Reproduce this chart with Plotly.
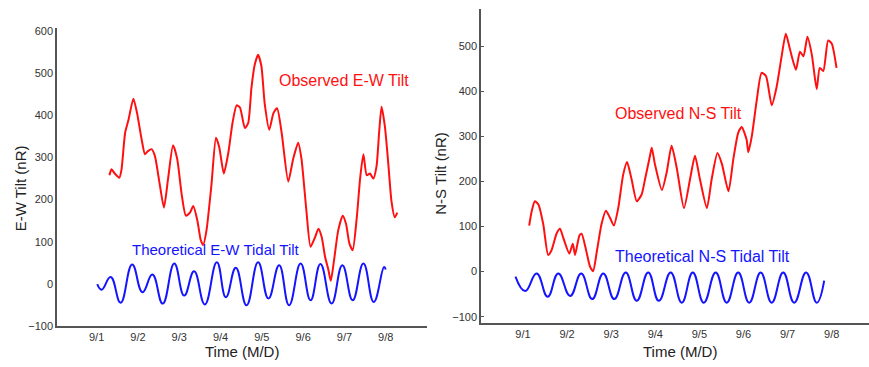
import plotly.graph_objects as go

# ---------------- data (days of September; tick "9/N" at day N) ----------------
ew_obs_day = [1.31, 1.36, 1.44, 1.55, 1.60, 1.69, 1.77, 1.89, 1.98, 2.09, 2.17, 2.25, 2.33, 2.41,
              2.53, 2.63, 2.73, 2.85, 2.95, 3.06, 3.16, 3.26, 3.34, 3.44, 3.52, 3.58, 3.66, 3.78,
              3.89, 3.97, 4.08, 4.19, 4.29, 4.39, 4.47, 4.59, 4.67, 4.75, 4.83, 4.91, 4.99, 5.07,
              5.18, 5.28, 5.37, 5.48, 5.64, 5.76, 5.88, 5.96, 6.08, 6.18, 6.29, 6.37, 6.45, 6.53,
              6.61, 6.67, 6.75, 6.85, 6.96, 7.04, 7.12, 7.20, 7.30, 7.38, 7.46, 7.54, 7.62, 7.70,
              7.78, 7.84, 7.90, 7.98, 8.06, 8.14, 8.22, 8.28]
ew_obs_val = [258, 272, 262, 252, 270, 359, 389, 440, 405, 343, 308, 316, 320, 304,
              235, 181, 250, 329, 297, 212, 162, 169, 185, 150, 104, 92, 127, 235,
              347, 324, 262, 312, 382, 424, 419, 370, 382, 467, 521, 544, 517, 428,
              366, 405, 417, 359, 243, 297, 335, 297, 173, 88, 111, 131, 111, 65,
              34, 7, 57, 127, 162, 142, 96, 80, 158, 250, 308, 258, 262, 250,
              281, 359, 421, 374, 289, 196, 158, 169]

ew_th_day = [1.015, 1.12, 1.34, 1.58, 1.86, 2.11, 2.35, 2.60, 2.88, 3.12, 3.36, 3.62, 3.91, 4.13,
             4.37, 4.63, 4.91, 5.16, 5.42, 5.66, 5.94, 6.18, 6.42, 6.69, 6.95, 7.20, 7.46, 7.71,
             7.96, 8.00]
ew_th_val = [-1, -14, 16, -45, 46, -20, 22, -47, 48, -28, 30, -49, 51, -32,
             38, -51, 51, -35, 44, -51, 48, -39, 47, -47, 44, -39, 48, -43,
             40, 34]

ns_obs_day = [1.14, 1.20, 1.27, 1.35, 1.46, 1.57, 1.65, 1.76, 1.84, 1.91, 2.05, 2.13, 2.18, 2.28,
              2.33, 2.43, 2.52, 2.59, 2.68, 2.78, 2.88, 2.97, 3.06, 3.16, 3.27, 3.36, 3.46, 3.58,
              3.69, 3.77, 3.88, 3.92, 3.99, 4.15, 4.26, 4.37, 4.49, 4.65, 4.79, 4.90, 5.01, 5.17,
              5.28, 5.41, 5.51, 5.66, 5.77, 5.88, 5.96, 6.07, 6.11, 6.19, 6.30, 6.41, 6.51, 6.64,
              6.75, 6.87, 6.96, 7.05, 7.19, 7.28, 7.36, 7.45, 7.55, 7.66, 7.73, 7.81, 7.92, 8.00,
              8.04, 8.11]
ns_obs_val = [102, 135, 156, 149, 105, 37, 48, 84, 95, 76, 40, 62, 37, 80,
              84, 48, 11, 1, 48, 105, 135, 120, 102, 141, 214, 243, 206, 156,
              171, 206, 257, 275, 239, 181, 221, 279, 228, 141, 206, 257, 206, 141,
              206, 263, 239, 178, 250, 308, 321, 293, 265, 301, 380, 441, 434, 369,
              409, 481, 528, 495, 448, 488, 478, 521, 481, 405, 452, 445, 513, 506,
              492, 452]

ns_th_day = [0.83, 1.05, 1.31, 1.56, 1.80, 2.07, 2.32, 2.57, 2.82, 3.07, 3.33, 3.58, 3.84, 4.08,
             4.35, 4.60, 4.85, 5.10, 5.37, 5.62, 5.88, 6.13, 6.39, 6.64, 6.90, 7.15, 7.42, 7.66,
             7.83]
ns_th_val = [-11, -43, -4, -56, -4, -54, -4, -61, -4, -61, -2, -65, -2, -65,
             -2, -69, -2, -69, -2, -69, -2, -69, -2, -69, -2, -69, -2, -69,
             -20]

day_ticks = [1, 2, 3, 4, 5, 6, 7, 8]
day_labels = ["9/1", "9/2", "9/3", "9/4", "9/5", "9/6", "9/7", "9/8"]
ew_yticks = [-100, 0, 100, 200, 300, 400, 500, 600]
ns_yticks = [-100, 0, 100, 200, 300, 400, 500]

RED = "#ff1010"
BLUE = "#1414ff"
FONT = "Liberation Sans, Arial, sans-serif"

fig = go.Figure()
fig.add_trace(go.Scatter(x=ew_obs_day, y=ew_obs_val, mode="lines",
                         line=dict(color=RED, width=2, shape="spline", smoothing=0.6),
                         xaxis="x", yaxis="y", hoverinfo="skip"))
fig.add_trace(go.Scatter(x=ew_th_day, y=ew_th_val, mode="lines",
                         line=dict(color=BLUE, width=2, shape="spline", smoothing=1.3),
                         xaxis="x", yaxis="y", hoverinfo="skip"))
fig.add_trace(go.Scatter(x=ns_obs_day, y=ns_obs_val, mode="lines",
                         line=dict(color=RED, width=2, shape="spline", smoothing=0.6),
                         xaxis="x2", yaxis="y2", hoverinfo="skip"))
fig.add_trace(go.Scatter(x=ns_th_day, y=ns_th_val, mode="lines",
                         line=dict(color=BLUE, width=2, shape="spline", smoothing=1.3),
                         xaxis="x2", yaxis="y2", hoverinfo="skip"))

W, H = 869, 367
tickfont = dict(family=FONT, size=11, color="#333333")
axis_common = dict(showline=True, linecolor="#555555", linewidth=1.5, showgrid=False,
                   zeroline=False, tickfont=tickfont, fixedrange=True)

fig.update_layout(
    width=W, height=H, margin=dict(l=0, r=0, t=0, b=0),
    paper_bgcolor="white", plot_bgcolor="white", showlegend=False,
    font=dict(family=FONT),
    xaxis=dict(domain=[57 / W, 427 / W], range=[0.04, 9.0], tickvals=day_ticks,
               ticktext=day_labels, ticks="", anchor="y", **axis_common),
    yaxis=dict(domain=[(H - 331) / H, (H - 26) / H], range=[-100, 607], tickvals=ew_yticks,
               ticks="", anchor="x", **axis_common),
    xaxis2=dict(domain=[481 / W, 1.0], range=[0.048, 8.846], tickvals=day_ticks,
                ticktext=day_labels, ticks="", anchor="y2", **axis_common),
    yaxis2=dict(domain=[(H - 328) / H, (H - 6) / H], range=[-114, 583], tickvals=ns_yticks,
                ticks="inside", ticklen=3, tickcolor="#555555", anchor="x2", **axis_common),
)

ann = [
    dict(text="Observed E-W Tilt", x=5.37, y=482, xref="x", yref="y", xanchor="left",
         yanchor="middle", font=dict(color=RED, size=16)),
    dict(text="Theoretical E-W Tidal Tilt", x=1.81, y=82, xref="x", yref="y", xanchor="left",
         yanchor="middle", font=dict(color=BLUE, size=15)),
    dict(text="Observed N-S Tilt", x=3.03, y=351, xref="x2", yref="y2", xanchor="left",
         yanchor="middle", font=dict(color=RED, size=16)),
    dict(text="Theoretical N-S Tidal Tilt", x=3.04, y=33, xref="x2", yref="y2", xanchor="left",
         yanchor="middle", font=dict(color=BLUE, size=16)),
    dict(text="E-W Tilt (nR)", x=20 / W, y=(H - 190) / H, xref="paper", yref="paper",
         textangle=-90, xanchor="center", yanchor="middle", font=dict(color="#222222", size=15)),
    dict(text="N-S Tilt (nR)", x=441 / W, y=(H - 175) / H, xref="paper", yref="paper",
         textangle=-90, xanchor="center", yanchor="middle", font=dict(color="#222222", size=15)),
    dict(text="Time (M/D)", x=242 / W, y=(H - 357) / H, xref="paper", yref="paper",
         xanchor="center", yanchor="middle", font=dict(color="#222222", size=15)),
    dict(text="Time (M/D)", x=680 / W, y=(H - 357) / H, xref="paper", yref="paper",
         xanchor="center", yanchor="middle", font=dict(color="#222222", size=15)),
]
for a in ann:
    a["showarrow"] = False
fig.update_layout(annotations=ann)

fig.write_html("out.html")
